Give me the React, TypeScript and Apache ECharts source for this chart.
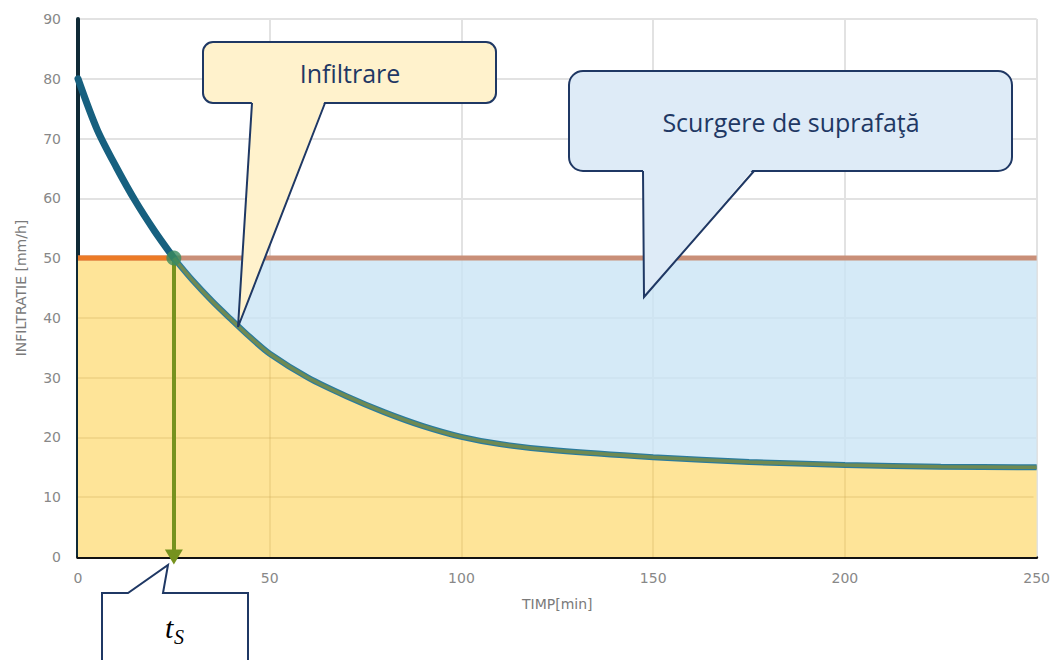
import React, { useEffect, useRef } from "react";
import * as echarts from "echarts";

// Time (min) and infiltration capacity (mm/h)
const timeMin = [0, 5, 10, 15, 20, 25, 30, 35, 40, 45, 50, 60, 70, 80, 90, 100, 110, 125, 150, 175, 200, 225, 250];
const infiltration = [80, 71.5, 65.2, 59.5, 54.5, 50, 46.2, 42.8, 39.7, 36.7, 34, 30, 26.9, 24.2, 21.9, 20.1, 18.9, 17.8, 16.7, 15.9, 15.4, 15.1, 15];
const rainIntensity = 50; // mm/h
const pondingTime = 25; // t_s (min)
const xTicks = { min: 0, max: 250, interval: 50 };
const yTicks = { min: 0, max: 90, interval: 10 };
const xGridValues = [50, 100, 150, 200];
const yGridValues = [10, 20, 30, 40];

const NAVY = "#1f3864";
const AXIS_FONT = "DejaVu Sans";

// time at which the curve falls to a given level (read along the data)
function timeAtLevel(level: number): number {
  for (let i = 1; i < timeMin.length; i++) {
    const a = infiltration[i - 1];
    const b = infiltration[i];
    if (a >= level && b <= level) {
      return timeMin[i - 1] + ((a - level) / (a - b)) * (timeMin[i] - timeMin[i - 1]);
    }
  }
  return timeMin[timeMin.length - 1];
}

export default function App() {
  const ref = useRef<HTMLDivElement>(null);

  useEffect(() => {
    document.body.style.margin = "0";
    if (!ref.current) return;
    const chart = echarts.init(ref.current, undefined, { renderer: "svg" });

    const yellowData = timeMin.map((t, i) => [t, Math.min(infiltration[i], rainIntensity)]);
    const blueData = [[pondingTime, rainIntensity], [xTicks.max, rainIntensity]];
    const upper = timeMin.map((t, i) => [t, infiltration[i]]).filter((p) => p[0] <= pondingTime);
    const lower = timeMin.map((t, i) => [t, infiltration[i]]).filter((p) => p[0] >= pondingTime);

    // grid lines seen through the yellow area
    const yellowGrid: any[] = [];
    yGridValues.forEach((v) => {
      yellowGrid.push([{ coord: [xTicks.min, v] }, { coord: [Math.min(timeAtLevel(v) - 0.8, xTicks.max), v] }]);
    });
    xGridValues.forEach((v) => {
      const idx = timeMin.indexOf(v);
      yellowGrid.push([{ coord: [v, 0] }, { coord: [v, infiltration[idx] - 0.4] }]);
    });

    const smooth = 0.3;

    chart.setOption({
      animation: false,
      grid: { left: 78, right: 16, top: 19, bottom: 103, containLabel: false },
      xAxis: {
        type: "value",
        min: xTicks.min,
        max: xTicks.max,
        interval: xTicks.interval,
        name: "TIMP[min]",
        nameLocation: "middle",
        nameGap: 40,
        nameTextStyle: { color: "#7a7a7a", fontSize: 14, fontFamily: AXIS_FONT },
        axisLine: { show: true, lineStyle: { color: "#111", width: 3 } },
        axisTick: { show: false },
        axisLabel: { color: "#888", fontSize: 14, margin: 14, fontFamily: AXIS_FONT },
        splitLine: { show: true, lineStyle: { color: "#e2e2e2", width: 2 } },
      },
      yAxis: {
        type: "value",
        min: yTicks.min,
        max: yTicks.max,
        interval: yTicks.interval,
        name: "INFILTRATIE [mm/h]",
        nameLocation: "middle",
        nameGap: 50,
        nameTextStyle: { color: "#7a7a7a", fontSize: 14, fontFamily: AXIS_FONT },
        axisLine: { show: true, lineStyle: { color: "#0f2a36", width: 4 } },
        axisTick: { show: false },
        axisLabel: { color: "#888", fontSize: 14, margin: 17, fontFamily: AXIS_FONT },
        splitLine: { show: true, lineStyle: { color: "#e2e2e2", width: 2 } },
      },
      series: [
        {
          type: "line",
          name: "scurgere",
          data: blueData,
          symbol: "none",
          lineStyle: { width: 0 },
          areaStyle: { color: "rgba(202,229,245,0.8)", opacity: 1 },
          z: 1,
        },
        {
          type: "line",
          name: "infiltrare",
          data: yellowData,
          smooth,
          symbol: "none",
          lineStyle: { width: 0 },
          areaStyle: { color: "#fee498", opacity: 1 },
          z: 2,
          markLine: {
            silent: true,
            symbol: "none",
            label: { show: false },
            lineStyle: { color: "rgba(200,165,80,0.22)", width: 2, type: "solid" },
            data: yellowGrid,
          },
        },
        {
          type: "line",
          name: "ploaie",
          data: [[xTicks.min, rainIntensity], [xTicks.max, rainIntensity]],
          symbol: "none",
          lineStyle: { color: "#c98f78", width: 5 },
          z: 3,
          markLine: {
            silent: true,
            symbol: ["none", "triangle"],
            symbolSize: [18, 15],
            label: { show: false },
            lineStyle: { color: "#76921e", width: 4, type: "solid" },
            data: [[{ coord: [pondingTime, rainIntensity] }, { coord: [pondingTime, 0] }]],
          },
        },
        {
          type: "line",
          name: "ploaie2",
          data: [[xTicks.min, rainIntensity], [pondingTime, rainIntensity]],
          symbol: "none",
          lineStyle: { color: "#ec7a26", width: 5 },
          z: 3,
        },
        {
          type: "line",
          name: "curba1",
          data: upper,
          smooth,
          symbol: "none",
          lineStyle: { color: "#17607f", width: 7, cap: "round" },
          z: 5,
        },
        {
          type: "line",
          name: "curba2",
          data: lower,
          smooth,
          symbol: "none",
          lineStyle: { color: "#2b7b9c", width: 6 },
          z: 5,
        },
        {
          type: "line",
          name: "curba3",
          data: lower,
          smooth,
          symbol: "none",
          lineStyle: { color: "#6f8a52", width: 3.5 },
          z: 6,
        },
        {
          type: "scatter",
          name: "ts",
          data: [[pondingTime, rainIntensity]],
          symbolSize: 15,
          itemStyle: { color: "#3b8b5e" },
          z: 7,
        },
      ],
      graphic: [
        // Infiltrare callout
        { type: "rect", z: 100, shape: { x: 203, y: 42, width: 293, height: 61, r: 10 }, style: { fill: "#fff2cc", stroke: NAVY, lineWidth: 2 } },
        { type: "polygon", z: 101, shape: { points: [[252, 100], [238, 327], [325, 100]] }, style: { fill: "#fff2cc" } },
        { type: "polyline", z: 102, shape: { points: [[252, 103], [238, 327], [325, 103]] }, style: { fill: null, stroke: NAVY, lineWidth: 2 } },
        { type: "text", z: 103, x: 350, y: 73, style: { text: "Infiltrare", align: "center", verticalAlign: "middle", fill: NAVY, font: "25px 'Open Sans'" } },
        // Scurgere callout
        { type: "rect", z: 100, shape: { x: 569, y: 71, width: 443, height: 100, r: 14 }, style: { fill: "#deebf7", stroke: NAVY, lineWidth: 2 } },
        { type: "polygon", z: 101, shape: { points: [[643, 168], [644, 297], [754, 168]] }, style: { fill: "#deebf7" } },
        { type: "polyline", z: 102, shape: { points: [[643, 171], [644, 297], [754, 171]] }, style: { fill: null, stroke: NAVY, lineWidth: 2 } },
        { type: "text", z: 103, x: 791, y: 122, style: { text: "Scurgere de suprafaţă", align: "center", verticalAlign: "middle", fill: NAVY, font: "25px 'Open Sans'" } },
        // t_s callout
        { type: "polygon", z: 100, shape: { points: [[102, 672], [102, 593], [128, 593], [168, 565], [163, 593], [248, 593], [248, 672]] }, style: { fill: "#ffffff", stroke: NAVY, lineWidth: 2 } },
        { type: "text", z: 103, x: 165, y: 627, style: { text: "t", align: "left", verticalAlign: "middle", fill: "#000", font: "italic 30px 'Liberation Serif'" } },
        { type: "text", z: 103, x: 174, y: 637, style: { text: "S", align: "left", verticalAlign: "middle", fill: "#000", font: "italic 20px 'Liberation Serif'" } },
      ],
    });

    return () => chart.dispose();
  }, []);

  return <div ref={ref} style={{ width: 1053, height: 660 }} />;
}
